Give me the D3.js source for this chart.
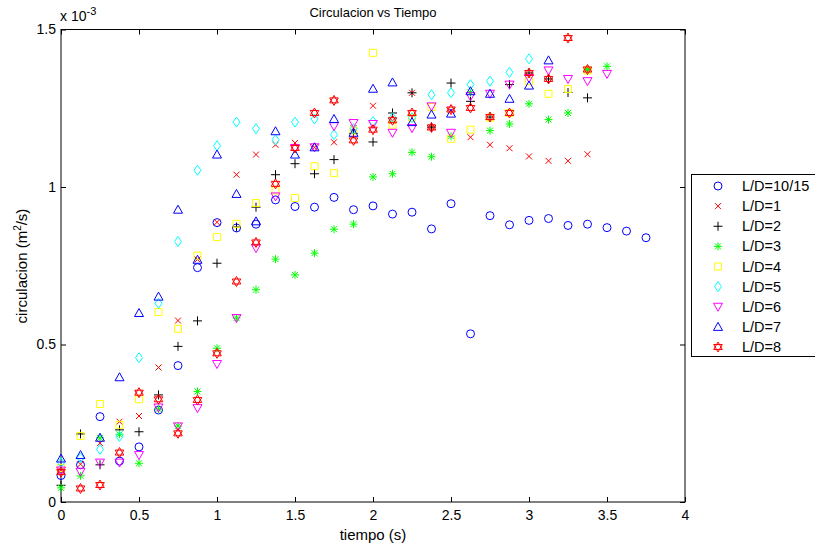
<!DOCTYPE html>
<html>
<head>
<meta charset="utf-8">
<script src="https://cdn.jsdelivr.net/npm/d3@7"></script>
<style>
  body { margin: 0; background: #fff; }
  svg { font-family: "Liberation Sans", Arial, sans-serif; }
</style>
</head>
<body>
<svg id="chart" width="815" height="544"></svg>
<script>
// time steps (s), every 0.125
const tiempo = d3.range(0, 31).map((i) => i * 0.125);

// circulacion values, in units of 1e-3 m^2/s
const ld_10_15 = [0.084, 0.118, 0.271, 0.130, 0.175, 0.292, 0.433, 0.744, 0.887, 0.870, 0.882, 0.959, 0.938, 0.936, 0.967, 0.928, 0.940, 0.914, 0.920, 0.867, 0.947, 0.534, 0.909, 0.880, 0.894, 0.900, 0.878, 0.882, 0.871, 0.860, 0.839];
const ld_1 = [0.100, 0.120, 0.187, 0.255, 0.273, 0.427, 0.576, 0.770, 0.888, 1.039, 1.103, 1.134, 1.140, 1.126, 1.142, 1.187, 1.258, 1.210, 1.299, 1.190, 1.242, 1.158, 1.134, 1.123, 1.097, 1.083, 1.083, 1.104];
const ld_2 = [0.053, 0.216, 0.118, 0.229, 0.223, 0.340, 0.494, 0.575, 0.758, 0.873, 0.936, 1.039, 1.074, 1.042, 1.087, 1.170, 1.143, 1.235, 1.299, 1.190, 1.330, 1.272, 1.222, 1.325, 1.362, 1.343, 1.300, 1.283];
const ld_3 = [0.045, 0.083, 0.204, 0.215, 0.123, 0.295, 0.241, 0.351, 0.488, 0.584, 0.674, 0.771, 0.721, 0.790, 0.866, 0.882, 1.032, 1.042, 1.110, 1.096, 1.161, 1.300, 1.179, 1.200, 1.264, 1.214, 1.235, 1.373, 1.383];
const ld_4 = [0.108, 0.210, 0.311, 0.245, 0.326, 0.603, 0.550, 0.782, 0.841, 0.883, 0.949, 0.989, 0.965, 1.066, 1.044, 1.180, 1.426, 1.198, 1.220, 1.254, 1.153, 1.182, 1.220, 1.235, 1.336, 1.296, 1.311, 1.370];
const ld_5 = [0.125, 0.140, 0.167, 0.208, 0.458, 0.631, 0.827, 1.053, 1.131, 1.206, 1.185, 1.150, 1.206, 1.216, 1.166, 1.185, 1.208, 1.220, 1.220, 1.293, 1.299, 1.325, 1.336, 1.364, 1.407];
const ld_6 = [0.100, 0.096, 0.125, 0.125, 0.149, 0.300, 0.240, 0.298, 0.438, 0.584, 0.806, 0.970, 1.124, 1.126, 1.193, 1.203, 1.200, 1.172, 1.187, 1.256, 1.172, 1.288, 1.296, 1.325, 1.346, 1.370, 1.343, 1.336, 1.359];
const ld_7 = [0.138, 0.149, 0.204, 0.396, 0.600, 0.652, 0.928, 0.769, 1.103, 0.978, 0.891, 1.177, 1.103, 1.126, 1.216, 1.172, 1.312, 1.332, 1.206, 1.230, 1.233, 1.304, 1.296, 1.280, 1.322, 1.402];
const ld_8 = [0.095, 0.043, 0.054, 0.157, 0.347, 0.326, 0.218, 0.324, 0.472, 0.700, 0.824, 1.010, 1.124, 1.235, 1.275, 1.148, 1.182, 1.212, 1.235, 1.189, 1.246, 1.251, 1.222, 1.235, 1.362, 1.343, 1.473, 1.373];

const legend_labels = ["L/D=10/15", "L/D=1", "L/D=2", "L/D=3", "L/D=4", "L/D=5", "L/D=6", "L/D=7", "L/D=8"];
const x_ticks = [0, 0.5, 1, 1.5, 2, 2.5, 3, 3.5, 4];
const y_ticks = [0, 0.5, 1, 1.5];

// marker shapes (MATLAB style)
const markers = {
  circle: "M4,0A4,4 0 1,1 -4,0A4,4 0 1,1 4,0Z",
  x: "M-3,-3L3,3M-3,3L3,-3",
  plus: "M-4.5,0L4.5,0M0,-4.5L0,4.5",
  star: "M-4,0L4,0M0,-4L0,4M-3,-3L3,3M-3,3L3,-3",
  square: "M-3.5,-3.5L3.5,-3.5L3.5,3.5L-3.5,3.5Z",
  diamond: "M0,-5L3.5,0L0,5L-3.5,0Z",
  tridown: "M-4.5,-3.5L4.5,-3.5L0,4.5Z",
  triup: "M0,-4.5L4.5,3.5L-4.5,3.5Z",
  hexagram: "M0,-5L4.3,2.5L-4.3,2.5ZM0,5L4.3,-2.5L-4.3,-2.5Z",
};

const series = [
  { values: ld_10_15, color: "#0000ff", marker: markers.circle },
  { values: ld_1, color: "#ff0000", marker: markers.x },
  { values: ld_2, color: "#000000", marker: markers.plus },
  { values: ld_3, color: "#00ff00", marker: markers.star },
  { values: ld_4, color: "#ffff00", marker: markers.square },
  { values: ld_5, color: "#00ffff", marker: markers.diamond },
  { values: ld_6, color: "#ff00ff", marker: markers.tridown },
  { values: ld_7, color: "#0000ff", marker: markers.triup },
  { values: ld_8, color: "#ff0000", marker: markers.hexagram },
];

const svg = d3.select("#chart");
const plotLeft = 61, plotRight = 685, plotTop = 29.5, plotBottom = 502;

const xScale = d3.scaleLinear().domain([0, 4]).range([plotLeft, plotRight]);
const yScale = d3.scaleLinear().domain([0, 1.5]).range([plotBottom, plotTop]);

// axes box
svg.append("rect")
  .attr("x", plotLeft).attr("y", plotTop)
  .attr("width", plotRight - plotLeft).attr("height", plotBottom - plotTop)
  .attr("fill", "#fff").attr("stroke", "#000").attr("stroke-width", 1);

// bottom axis
const gx = svg.append("g")
  .attr("transform", `translate(0,${plotBottom})`)
  .call(d3.axisBottom(xScale).tickValues(x_ticks).tickSize(-5).tickPadding(8).tickFormat(d3.format("")));
// top axis (ticks only)
const gxt = svg.append("g")
  .attr("transform", `translate(0,${plotTop})`)
  .call(d3.axisTop(xScale).tickValues(x_ticks).tickSize(-5).tickFormat(""));
// left axis
const gy = svg.append("g")
  .attr("transform", `translate(${plotLeft},0)`)
  .call(d3.axisLeft(yScale).tickValues(y_ticks).tickSize(-5).tickPadding(5).tickFormat(d3.format("")));
// right axis (ticks only)
const gyr = svg.append("g")
  .attr("transform", `translate(${plotRight},0)`)
  .call(d3.axisRight(yScale).tickValues(y_ticks).tickSize(-5).tickFormat(""));

[gx, gxt, gy, gyr].forEach((g) => {
  g.select(".domain").remove();
  g.selectAll(".tick line").attr("stroke", "#000");
  g.selectAll(".tick text").attr("font-size", 14).attr("fill", "#000")
    .attr("font-family", "Liberation Sans, Arial, sans-serif");
});

// exponent label
const expo = svg.append("text").attr("x", 60).attr("y", 21).attr("font-size", 14);
expo.append("tspan").text("x 10");
expo.append("tspan").attr("font-size", 11).attr("dy", -6).text("-3");

// points
series.forEach((s) => {
  svg.append("g")
    .selectAll("path")
    .data(s.values)
    .join("path")
    .attr("d", s.marker)
    .attr("transform", (d, i) => `translate(${xScale(tiempo[i])},${yScale(d)})`)
    .attr("fill", "none")
    .attr("stroke", s.color)
    .attr("stroke-width", 1);
});

// title and labels
svg.append("text").attr("x", 373).attr("y", 17).attr("text-anchor", "middle")
  .attr("font-size", 13).text("Circulacion vs Tiempo");
svg.append("text").attr("x", 373).attr("y", 540).attr("text-anchor", "middle")
  .attr("font-size", 15).text("tiempo (s)");
const yl = svg.append("text")
  .attr("transform", `translate(27,266) rotate(-90)`)
  .attr("text-anchor", "middle").attr("font-size", 15);
yl.append("tspan").text("circulacion (m");
yl.append("tspan").attr("font-size", 10).attr("dy", -6).text("2");
yl.append("tspan").attr("dy", 6).text("/s)");

// legend
const legend = svg.append("g");
legend.append("rect")
  .attr("x", 691.5).attr("y", 174.5).attr("width", 140).attr("height", 182)
  .attr("fill", "#fff").attr("stroke", "#000").attr("stroke-width", 1);
const rowY = d3.scalePoint().domain(legend_labels).range([186, 347]);
series.forEach((s, i) => {
  const yy = rowY(legend_labels[i]);
  legend.append("path")
    .attr("d", s.marker)
    .attr("transform", `translate(718,${yy})`)
    .attr("fill", "none").attr("stroke", s.color);
  legend.append("text")
    .attr("x", 742).attr("y", yy + 5)
    .attr("font-size", 14.5).text(legend_labels[i]);
});
</script>
</body>
</html>
